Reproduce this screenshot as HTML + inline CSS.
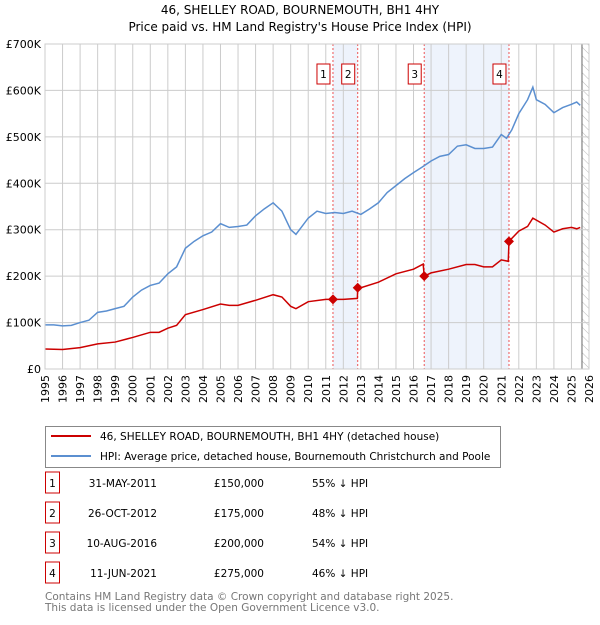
<!DOCTYPE html>
<html><head><meta charset="utf-8"><style>
body{margin:0;background:#fff;font-family:"Liberation Sans","DejaVu Sans",sans-serif;}
svg text{font-family:"DejaVu Sans","Liberation Sans",sans-serif;}
</style></head><body>
<svg width="600" height="620" viewBox="0 0 600 620">
<defs><pattern id="hatch" width="6" height="6" patternUnits="userSpaceOnUse" patternTransform="rotate(-45)"><line x1="0" y1="0" x2="0" y2="6" stroke="#bbb" stroke-width="1"/></pattern></defs>
<text x="300" y="14" text-anchor="middle" font-size="12">46, SHELLEY ROAD, BOURNEMOUTH, BH1 4HY</text>
<text x="300" y="31" text-anchor="middle" font-size="12">Price paid vs. HM Land Registry's House Price Index (HPI)</text>
<g id="plot"></g>
<g>
<rect x="45.5" y="426.5" width="455" height="41" fill="#fff" stroke="#888"/>
<line x1="51" y1="436" x2="91" y2="436" stroke="#cc0000" stroke-width="2"/>
<text x="100" y="440" font-size="10.5">46, SHELLEY ROAD, BOURNEMOUTH, BH1 4HY (detached house)</text>
<line x1="51" y1="456" x2="91" y2="456" stroke="#5b8fd0" stroke-width="2"/>
<text x="100" y="460" font-size="10.5">HPI: Average price, detached house, Bournemouth Christchurch and Poole</text>
</g>
<g id="table"></g>
<text x="45" y="600" font-size="10.5" fill="#777">Contains HM Land Registry data © Crown copyright and database right 2025.</text>
<text x="45" y="611" font-size="10.5" fill="#777">This data is licensed under the Open Government Licence v3.0.</text>
</svg>
<script>
const hpiYears=[1995,1995.5,1996,1996.5,1997,1997.5,1998,1998.5,1999,1999.5,2000,2000.5,2001,2001.5,2002,2002.5,2003,2003.5,2004,2004.5,2005,2005.5,2006,2006.5,2007,2007.5,2008,2008.5,2009,2009.3,2009.6,2010,2010.5,2011,2011.5,2012,2012.5,2013,2013.5,2014,2014.5,2015,2015.5,2016,2016.5,2017,2017.5,2018,2018.5,2019,2019.5,2020,2020.5,2021,2021.3,2021.6,2022,2022.5,2022.8,2023,2023.5,2024,2024.5,2025,2025.3,2025.5];
const hpiValues=[95,95,93,94,100,105,122,125,130,135,155,170,180,185,205,220,260,275,287,295,313,305,307,310,330,345,358,340,300,290,305,325,340,335,337,335,340,333,345,358,380,395,410,423,435,448,458,462,480,483,475,475,478,505,497,515,550,580,607,580,570,552,563,570,575,568];
const ppYears=[1995,1996,1997,1998,1999,2000,2001,2001.5,2002,2002.5,2003,2004,2005,2005.5,2006,2007,2008,2008.5,2009,2009.3,2010,2011,2011.41,2012,2012.8,2012.82,2013,2014,2015,2016,2016.55,2016.61,2017,2018,2019,2019.5,2020,2020.5,2021,2021.4,2021.44,2022,2022.5,2022.8,2023.5,2024,2024.5,2025,2025.3,2025.5];
const ppValues=[43,42,46,54,58,68,79,79,88,94,117,128,140,137,137,148,160,155,135,130,145,150,150,150,152,175,175,187,205,215,226,200,207,215,225,225,220,220,235,232,275,297,307,325,310,295,302,305,302,305];
const saleYears=[2011.41,2012.82,2016.61,2021.44];
const salePrices=[150000,175000,200000,275000];
const saleLabels=["1","2","3","4"];
const saleDates=["31-MAY-2011","26-OCT-2012","10-AUG-2016","11-JUN-2021"];
const salePriceText=["£150,000","£175,000","£200,000","£275,000"];
const saleDiffs=["55% ↓ HPI","48% ↓ HPI","54% ↓ HPI","46% ↓ HPI"];
const yTicks=[0,100,200,300,400,500,600,700];
const yTickLabels=["£0","£100K","£200K","£300K","£400K","£500K","£600K","£700K"];
const xTickYears=[1995,1996,1997,1998,1999,2000,2001,2002,2003,2004,2005,2006,2007,2008,2009,2010,2011,2012,2013,2014,2015,2016,2017,2018,2019,2020,2021,2022,2023,2024,2025,2026];

const L=45,R=589,T=44,B=369,ns="http://www.w3.org/2000/svg";
const xs=y=>L+(y-1995)/31*(R-L);
const ys=v=>B-v/700*(B-T);
const g=document.getElementById('plot');
function mk(tag,a,parent){const e=document.createElementNS(ns,tag);for(const k in a)e.setAttribute(k,a[k]);(parent||g).appendChild(e);return e;}
[[0,1],[2,3]].forEach(p=>{const r=mk('rect',{x:xs(saleYears[p[0]]),y:T,width:xs(saleYears[p[1]])-xs(saleYears[p[0]]),height:B-T,fill:'#eef3fc'});

});
const hx=xs(2025.6);
const h=mk('rect',{x:hx,y:T,width:R-hx,height:B-T,fill:'url(#hatch)'});


mk('line',{x1:hx,y1:T,x2:hx,y2:B,stroke:'#666','stroke-width':1});
yTicks.forEach((v,i)=>{const l=mk('line',{x1:L,x2:R,y1:ys(v),y2:ys(v),stroke:'#ccc'});


const t=mk('text',{x:L-4,y:ys(v)+4,'text-anchor':'end','font-size':11});t.textContent=yTickLabels[i];

});
xTickYears.forEach(yr=>{const l=mk('line',{x1:xs(yr),x2:xs(yr),y1:T,y2:B,stroke:'#ccc'});


const t=mk('text',{x:xs(yr)+4,y:B+6,'text-anchor':'end','font-size':11,transform:`rotate(-90 ${xs(yr)+4} ${B+6})`});t.textContent=yr;

});
saleYears.forEach((yr,i)=>{const l=mk('line',{x1:xs(yr),x2:xs(yr),y1:T,y2:B,stroke:'#e55','stroke-dasharray':'2,2'});


const bx=mk('rect',{x:xs(yr)-16,y:64,width:13,height:20,fill:'#fff',stroke:'#c00'});


const t=mk('text',{x:xs(yr)-9.5,y:78,'text-anchor':'middle','font-size':10.5});t.textContent=saleLabels[i];

});
const hp=mk('polyline',{points:hpiYears.map((y,i)=>xs(y)+','+ys(hpiValues[i])).join(' '),fill:'none',stroke:'#5b8fd0','stroke-width':1.5});


const pp=mk('polyline',{points:ppYears.map((y,i)=>xs(y)+','+ys(ppValues[i])).join(' '),fill:'none',stroke:'#cc0000','stroke-width':1.5});


saleYears.forEach((yr,i)=>{const x=xs(yr),y=ys(salePrices[i]/1000);
const d=mk('polygon',{points:`${x},${y-5} ${x+5},${y} ${x},${y+5} ${x-5},${y}`,fill:'#cc0000'});

});
mk('rect',{x:L,y:T,width:R-L,height:B-T,fill:'none',stroke:'#ccc'});
const tb=document.getElementById('table');
saleLabels.forEach((s,i)=>{const y=486+i*30;
const bx=mk('rect',{x:45.5,y:y-14,width:14,height:21,fill:'#fff',stroke:'#c00'},tb);


const cells=[[52.5,'middle',s],[157,'end',saleDates[i]],[264,'end',salePriceText[i]],[312,'start',saleDiffs[i]]];
cells.forEach(c=>{const t=mk('text',{x:c[0],y:y+1,'text-anchor':c[1],'font-size':10.5},tb);t.textContent=c[2];

});});
</script>
</body></html>
